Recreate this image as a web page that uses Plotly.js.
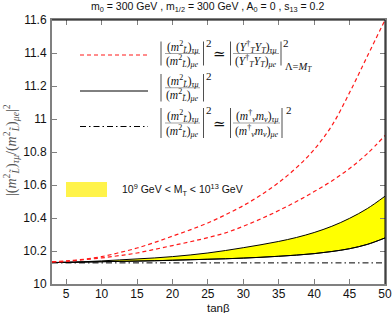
<!DOCTYPE html>
<html>
<head>
<meta charset="utf-8">
<script src="https://cdn.plot.ly/plotly-3.0.1.min.js"></script>
<style>html,body{margin:0;padding:0;background:#fff;}#c{width:392px;height:313px;}</style>
</head>
<body>
<div id="c"></div>
<script>
// ---- data ----
var tanb        = [3, 5, 7.5, 10, 12.5, 15, 17.5, 20, 22.5, 25, 27.5, 30, 32.5, 35, 37.5, 40, 42.5, 45, 47.5, 50];
var upperDashed = [10.135,10.140,10.150,10.166,10.190,10.218,10.252,10.290,10.328,10.370,10.420,10.475,10.540,10.615,10.705,10.815,10.960,11.160,11.380,11.600];
var lowerDashed = [10.133,10.137,10.147,10.158,10.172,10.188,10.210,10.233,10.256,10.281,10.310,10.350,10.395,10.445,10.500,10.560,10.625,10.700,10.790,10.900];
var bandUpper   = [10.130,10.132,10.135,10.140,10.146,10.152,10.158,10.166,10.176,10.188,10.203,10.220,10.238,10.258,10.282,10.312,10.350,10.398,10.457,10.532];
var bandLower   = [10.130,10.131,10.133,10.135,10.137,10.139,10.141,10.144,10.147,10.150,10.153,10.157,10.162,10.168,10.175,10.184,10.197,10.214,10.240,10.279];
var dashDotX    = [3, 50];
var dashDotY    = [10.128, 10.128];
var xTicks = [5,10,15,20,25,30,35,40,45,50];
var yTicks = [10,10.2,10.4,10.6,10.8,11,11.2,11.4,11.6];
var yTickText = ['10','10.2','10.4','10.6','10.8','11','11.2','11.4','11.6'];

// ---- layout helpers (pixel -> paper) ----
var L=52, T=20, W=333, H=264;
function PX(p){return (p-L)/W;}
function PY(p){return (T+H-p)/H;}

var RED='#ff1a1a', YEL='#ffff00';
var SANS='Liberation Sans, Arial, sans-serif';
var traces = [
  {x:tanb, y:bandLower, mode:'lines', line:{color:'#000',width:1,shape:'spline'}, hoverinfo:'skip'},
  {x:tanb, y:bandUpper, mode:'lines', line:{color:'#000',width:1,shape:'spline'}, fill:'tonexty', fillcolor:YEL, hoverinfo:'skip'},
  {x:tanb, y:bandLower, mode:'lines', line:{color:'#000',width:1,shape:'spline'}, hoverinfo:'skip'},
  {x:dashDotX, y:dashDotY, mode:'lines', line:{color:'#000',width:1,dash:'6px,3px,1.5px,3px'}, hoverinfo:'skip'},
  {x:tanb, y:lowerDashed, mode:'lines', line:{color:RED,width:1.2,dash:'4px,3px',shape:'spline'}, hoverinfo:'skip'},
  {x:tanb, y:upperDashed, mode:'lines', line:{color:RED,width:1.2,dash:'4px,3px',shape:'spline'}, hoverinfo:'skip'}
];

var shapes = [
  {type:'line',xref:'paper',yref:'paper',x0:0,x1:1,y0:1,y1:1,line:{color:'#000',width:1}},
  {type:'line',xref:'paper',yref:'paper',x0:1,x1:1,y0:0,y1:1,line:{color:'#000',width:1}},
  // legend samples
  {type:'line',xref:'paper',yref:'paper',x0:PX(80),x1:PX(148),y0:PY(55),y1:PY(55),line:{color:RED,width:1.2,dash:'4px,3px'}},
  {type:'line',xref:'paper',yref:'paper',x0:PX(80),x1:PX(148),y0:PY(91),y1:PY(91),line:{color:'#000',width:1}},
  {type:'line',xref:'paper',yref:'paper',x0:PX(80),x1:PX(148),y0:PY(126.5),y1:PY(126.5),line:{color:'#000',width:1,dash:'6px,3px,1.5px,3px'}},
  {type:'rect',xref:'paper',yref:'paper',x0:PX(66),x1:PX(107),y0:PY(197),y1:PY(182),line:{width:0},fillcolor:'#fff34a'}
];
function vbar(px,top,bot){shapes.push({type:'line',xref:'paper',yref:'paper',x0:PX(px),x1:PX(px),y0:PY(top),y1:PY(bot),line:{color:'#222',width:0.8}});}
function hbar(x0,x1,py){shapes.push({type:'line',xref:'paper',yref:'paper',x0:PX(x0),x1:PX(x1),y0:PY(py),y1:PY(py),line:{color:'#444',width:0.5}});}

var ann = [];
function txt(s,px,py,opt){
  opt=opt||{};
  ann.push({text:s,xref:'paper',yref:'paper',x:PX(px),y:PY(py),xanchor:opt.xa||'center',yanchor:'middle',showarrow:false,
    font:{family:opt.fam||'Liberation Serif, DejaVu Serif, serif',size:opt.size||11.5,color:opt.color||'#111'},textangle:opt.angle||0});
}
var numL = '(<i>m</i><sup>2</sup><sub><i>L̃</i></sub>)<sub><i>τμ</i></sub>';
var denL = '(<i>m</i><sup>2</sup><sub><i>L̃</i></sub>)<sub><i>μe</i></sub>';
var rows = [[41.5,65.5],[74,101.5],[108,138]];
rows.forEach(function(r){
  var c=(r[0]+r[1])/2;
  vbar(161,r[0],r[1]); vbar(203.5,r[0],r[1]);
  hbar(165,200,c);
  txt(numL,182.5,c-6.5); txt(denL,182.5,c+7.5);
  txt('2',208.5,r[0]+2,{size:11});
});
// row 1 right side
vbar(230.5,41.5,65.5); vbar(281,41.5,65.5); hbar(233,279,53.5);
txt('≃',220,53.5,{size:15});
txt('(<i>Y</i><sup>†</sup><sub><i>T</i></sub><i>Y</i><sub><i>T</i></sub>)<sub><i>τμ</i></sub>',256,47);
txt('(<i>Y</i><sup>†</sup><sub><i>T</i></sub><i>Y</i><sub><i>T</i></sub>)<sub><i>μe</i></sub>',256,61);
txt('2',286,43.5,{size:11});
txt('Λ=<i>M</i><sub><i>T</i></sub>',283,67.5,{xa:'left',size:10.5});
// row 3 right side
vbar(230.5,108,138); vbar(282,108,138); hbar(233,280,123);
txt('≃',220,124,{size:15});
txt('(<i>m</i><sup>†</sup><sub><i>ν</i></sub><i>m</i><sub><i>ν</i></sub>)<sub><i>τμ</i></sub>',256.5,116.5);
txt('(<i>m</i><sup>†</sup><sub><i>ν</i></sub><i>m</i><sub><i>ν</i></sub>)<sub><i>μe</i></sub>',256.5,130.5);
txt('2',289,110,{size:11});
// band legend text
txt('10<sup>9</sup> GeV &lt; M<sub>T</sub> &lt; 10<sup>13</sup> GeV',120,190.5,{xa:'left',fam:SANS,size:10.5});
// title
txt('m<sub>0</sub> = 300 GeV , m<sub>1/2</sub> = 300 GeV , A<sub>0</sub> = 0 , s<sub>13</sub> = 0.2',207,7.5,{fam:SANS,size:10.5});
// x axis title
txt('tanβ',218.5,307.5,{fam:SANS,size:11.5});
// y axis title
txt('|(<i>m</i><sup>2</sup><sub><i>L̃</i></sub>)<sub><i>τμ</i></sub>/(<i>m</i><sup>2</sup><sub><i>L̃</i></sub>)<sub><i>μe</i></sub>|<sup>2</sup>',11,150,{angle:-90,size:14,color:'#555'});

var axisCommon = {showline:true, linecolor:'#808080', linewidth:2, ticks:'inside', ticklen:5, tickwidth:1, tickcolor:'#808080',
  mirror:'ticks', showgrid:false, zeroline:false, tickfont:{family:SANS,size:12,color:'#111'}};
var layout = {
  width:392, height:313, margin:{l:L,r:392-L-W,t:T,b:313-T-H}, paper_bgcolor:'#fff', plot_bgcolor:'#fff', showlegend:false,
  xaxis:Object.assign({}, axisCommon, {range:[3,50], tickvals:xTicks, ticktext:xTicks.map(String), ticklabelstandoff:-2}),
  yaxis:Object.assign({}, axisCommon, {range:[10,11.6], tickvals:yTicks, ticktext:yTickText, ticklabelstandoff:1}),
  shapes:shapes, annotations:ann
};
Plotly.newPlot('c', traces, layout, {staticPlot:true, displayModeBar:false});
</script>
</body>
</html>
